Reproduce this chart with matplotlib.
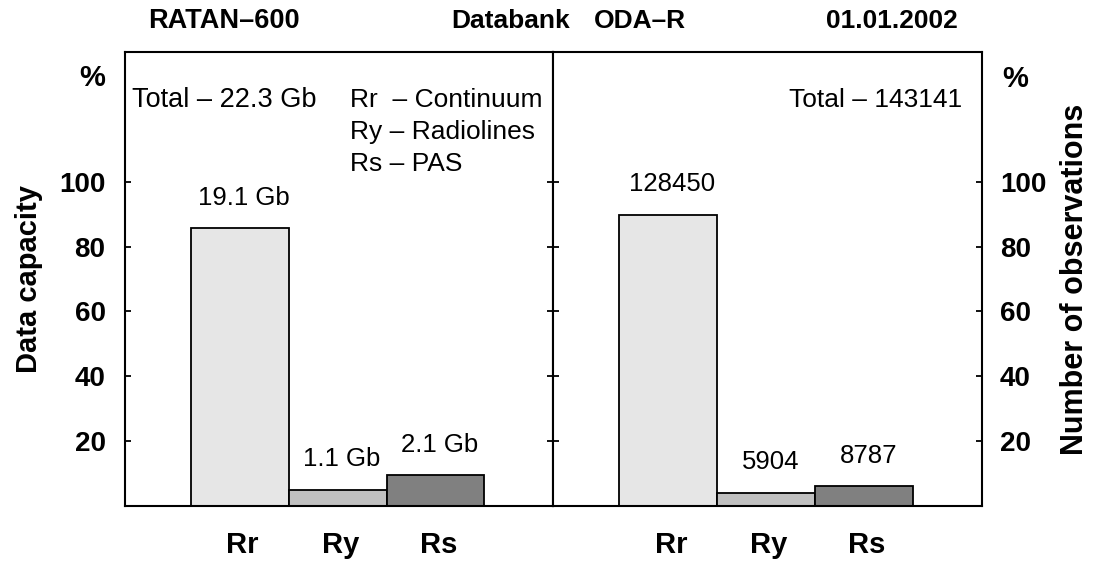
import numpy as np
import matplotlib
matplotlib.use('Agg')
import matplotlib.pyplot as plt
from matplotlib import font_manager

# data
cats = ['Rr', 'Ry', 'Rs']
capacity_gb = [19.1, 1.1, 2.1]
capacity_lbl = ['19.1 Gb', '1.1 Gb', '2.1 Gb']
n_obs = [128450, 5904, 8787]
obs_lbl = ['128450', '5904', '8787']
total_gb = 22.3
total_obs = 143141
yticks = [20, 40, 60, 80, 100]
colors = ['#e6e6e6', '#c0c0c0', '#808080']

names = {f.name for f in font_manager.fontManager.ttflist}
narrow = 'Liberation Sans Narrow' if 'Liberation Sans Narrow' in names else 'Liberation Sans'
plt.rcParams['font.family'] = ['Liberation Sans', 'DejaVu Sans']

cap_pct = np.array(capacity_gb) / total_gb * 100
obs_pct = np.array(n_obs) / total_obs * 100

W, H = 1103, 563
fig = plt.figure(figsize=(W / 100, H / 100), dpi=100)
ax1 = fig.add_axes([125 / W, 1 - 506 / H, 428 / W, 454 / H])
ax2 = fig.add_axes([553 / W, 1 - 506 / H, 429 / W, 454 / H])

x = np.arange(len(cats))
for ax, vals, lbls in [(ax1, cap_pct, capacity_lbl), (ax2, obs_pct, obs_lbl)]:
    ax.bar(x, vals, width=1.0, color=colors, edgecolor='black', linewidth=1.3)
    for xi, v, t in zip(x, vals, lbls):
        ax.annotate(t, (xi, v), xytext=(3, 22), textcoords='offset points',
                    ha='center', va='center', fontsize=18.5)
    ax.set_xlim(-1.17, 3.2)
    ax.set_ylim(0, 140)
    ax.set_yticks(yticks)
    ax.set_xticks(x + 0.03)
    ax.set_xticklabels(cats, fontsize=21, fontweight='bold')
    ax.tick_params(axis='x', length=0, pad=18)
    ax.tick_params(axis='y', direction='in', length=4, width=1.3,
                   left=True, right=True, labelsize=20)
    for s in ax.spines.values():
        s.set_linewidth(1.5)
    for tk in ax.yaxis.get_major_ticks():
        for lab in (tk.label1, tk.label2):
            lab.set_family(narrow)
            lab.set_fontweight('bold')

ax1.tick_params(axis='y', labelleft=True, labelright=False, pad=14)
ax2.tick_params(axis='y', labelleft=False, labelright=True, pad=13)

ax1.set_ylabel('Data capacity', fontsize=21, fontweight='bold', labelpad=12)
ax2.yaxis.set_label_position('right')
ax2.set_ylabel('Number of observations', fontsize=22, fontweight='bold', labelpad=10)

# panel texts
ax1.text(132 / W, 1 - 100 / H, 'Total \u2013 22.3 Gb', transform=fig.transFigure,
         ha='left', va='center', fontsize=19.5)
ax1.text(350 / W, 1 - 100 / H, 'Rr  \u2013 Continuum', transform=fig.transFigure,
         ha='left', va='center', fontsize=19)
ax1.text(350 / W, 1 - 132 / H, 'Ry \u2013 Radiolines', transform=fig.transFigure,
         ha='left', va='center', fontsize=19)
ax1.text(350 / W, 1 - 164 / H, 'Rs \u2013 PAS', transform=fig.transFigure,
         ha='left', va='center', fontsize=19)
ax2.text(962 / W, 1 - 100 / H, 'Total \u2013 143141', transform=fig.transFigure,
         ha='right', va='center', fontsize=19)

# header
fig.text(224 / W, 1 - 21 / H, 'RATAN\u2013600', ha='center', va='center',
         fontsize=19.5, fontweight='bold')
fig.text(511 / W, 1 - 21 / H, 'Databank', ha='center', va='center',
         fontsize=19, fontweight='bold')
fig.text(640 / W, 1 - 21 / H, 'ODA\u2013R', ha='center', va='center',
         fontsize=19, fontweight='bold')
fig.text(892 / W, 1 - 21 / H, '01.01.2002', ha='center', va='center',
         fontsize=19, fontweight='bold')
fig.text(92 / W, 1 - 78 / H, '%', ha='center', va='center',
         fontsize=21, fontweight='bold')
fig.text(1015 / W, 1 - 79 / H, '%', ha='center', va='center',
         fontsize=21, fontweight='bold')

fig.savefig('out.png', dpi=100)
